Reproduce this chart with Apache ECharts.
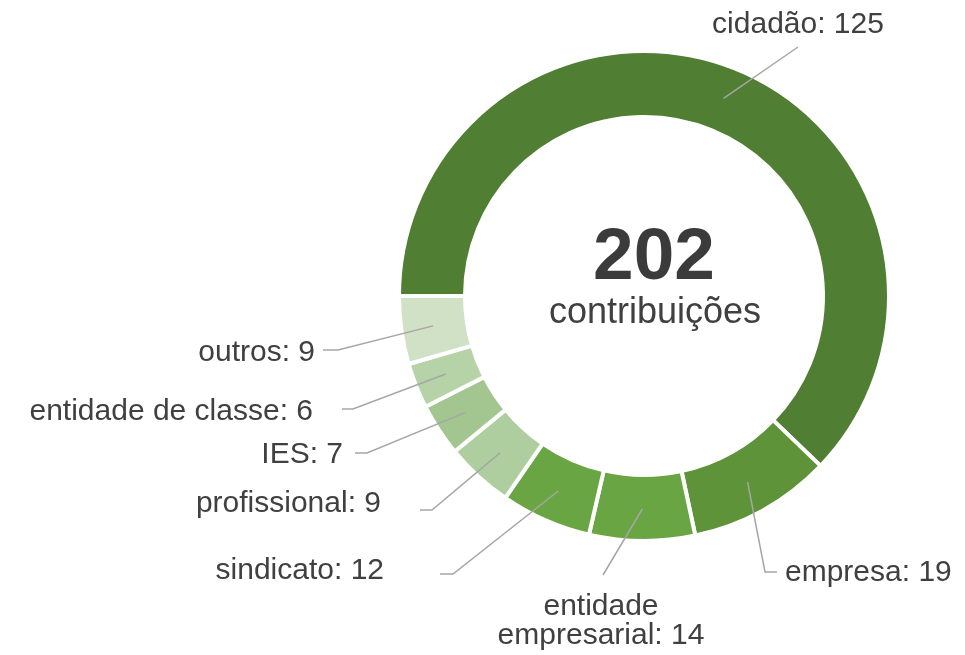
<!DOCTYPE html>
<html>
<head>
<meta charset="utf-8">
<script src="https://cdn.jsdelivr.net/npm/echarts@6/dist/echarts.min.js"></script>
<style>
  html, body { margin: 0; padding: 0; background: #fff; }
  #chart { width: 965px; height: 655px; }
</style>
</head>
<body>
<div id="chart"></div>
<script>
const categories = ['cidadão', 'empresa', 'entidade empresarial', 'sindicato', 'profissional', 'IES', 'entidade de classe', 'outros'];
const labelNames = ['cidadão', 'empresa', 'entidade\nempresarial', 'sindicato', 'profissional', 'IES', 'entidade de classe', 'outros'];
const values = [125, 19, 14, 12, 9, 7, 6, 9];
const colors = ['#507e32', '#5e9339', '#6aa543', '#6aa543', '#aecea0', '#a3c690', '#b5d3a6', '#d0e1c5'];
const totalText = '202';
const totalCaption = 'contribuições';

// label anchor + leader line elbow/end, in px (same order as categories)
const labelSpots = [
  { x: 798, y: 25, align: 'center', elbow: [798, 47], end: [798, 47] },
  { x: 785, y: 573, align: 'left', elbow: [765, 572], end: [777, 572] },
  { x: 601, y: 621, align: 'center', elbow: [603, 575], end: [603, 575] },
  { x: 384, y: 571, align: 'right', elbow: [453, 574], end: [440, 574] },
  { x: 381, y: 504, align: 'right', elbow: [432, 510], end: [420, 510] },
  { x: 343, y: 455, align: 'right', elbow: [367, 453], end: [355, 453] },
  { x: 313, y: 412, align: 'right', elbow: [353, 409], end: [342, 409] },
  { x: 315, y: 353, align: 'right', elbow: [338, 350], end: [323, 350] }
];

const center = [644, 296];
const ringRadius = [179, 245];
const lineStartR = 213; // leader lines start in the middle of the ring

const chart = echarts.init(document.getElementById('chart'));

const lineStart = (params) => {
  const p0 = params.labelLinePoints && params.labelLinePoints[0];
  if (!p0) return labelSpots[params.dataIndex].elbow;
  const dx = p0[0] - center[0];
  const dy = p0[1] - center[1];
  const k = lineStartR / Math.hypot(dx, dy);
  return [center[0] + dx * k, center[1] + dy * k];
};

const pieData = categories.map((name, i) => ({
  name: name,
  value: values[i],
  itemStyle: { color: colors[i] }
}));

chart.setOption({
  animation: false,
  backgroundColor: '#fff',
  graphic: [
    {
      type: 'text',
      x: 654,
      y: 259,
      style: {
        text: totalText,
        font: 'bold 73px "Liberation Sans", Arial, sans-serif',
        fill: '#3b3b3b',
        align: 'center',
        verticalAlign: 'middle'
      }
    },
    {
      type: 'text',
      x: 655,
      y: 313,
      style: {
        text: totalCaption,
        font: '36px "Liberation Sans", Arial, sans-serif',
        fill: '#404040',
        align: 'center',
        verticalAlign: 'middle'
      }
    }
  ],
  series: [
    // visible ring
    {
      type: 'pie',
      z: 2,
      center: center,
      radius: ringRadius,
      startAngle: 180,
      clockwise: true,
      silent: true,
      emphasis: { disabled: true },
      itemStyle: { borderColor: '#fff', borderWidth: 4 },
      label: { show: false },
      labelLine: { show: false },
      data: pieData
    },
    // transparent copy on top, carries labels so leader lines sit over the slices
    {
      type: 'pie',
      z: 5,
      center: center,
      radius: ringRadius,
      startAngle: 180,
      clockwise: true,
      silent: true,
      avoidLabelOverlap: false,
      emphasis: { disabled: true },
      itemStyle: { color: 'rgba(0,0,0,0)', borderWidth: 0 },
      label: {
        show: true,
        position: 'outside',
        color: '#404040',
        fontSize: 30,
        lineHeight: 29,
        fontFamily: '"Liberation Sans", Arial, sans-serif',
        formatter: (p) => labelNames[p.dataIndex] + ': ' + p.value
      },
      labelLine: {
        show: true,
        lineStyle: { color: '#a6a6a6', width: 1.5 }
      },
      labelLayout: (params) => {
        const s = labelSpots[params.dataIndex];
        return {
          x: s.x,
          y: s.y,
          align: s.align,
          verticalAlign: 'middle',
          labelLinePoints: [lineStart(params), s.elbow, s.end]
        };
      },
      data: categories.map((name, i) => ({ name: name, value: values[i] }))
    }
  ]
});
</script>
</body>
</html>
